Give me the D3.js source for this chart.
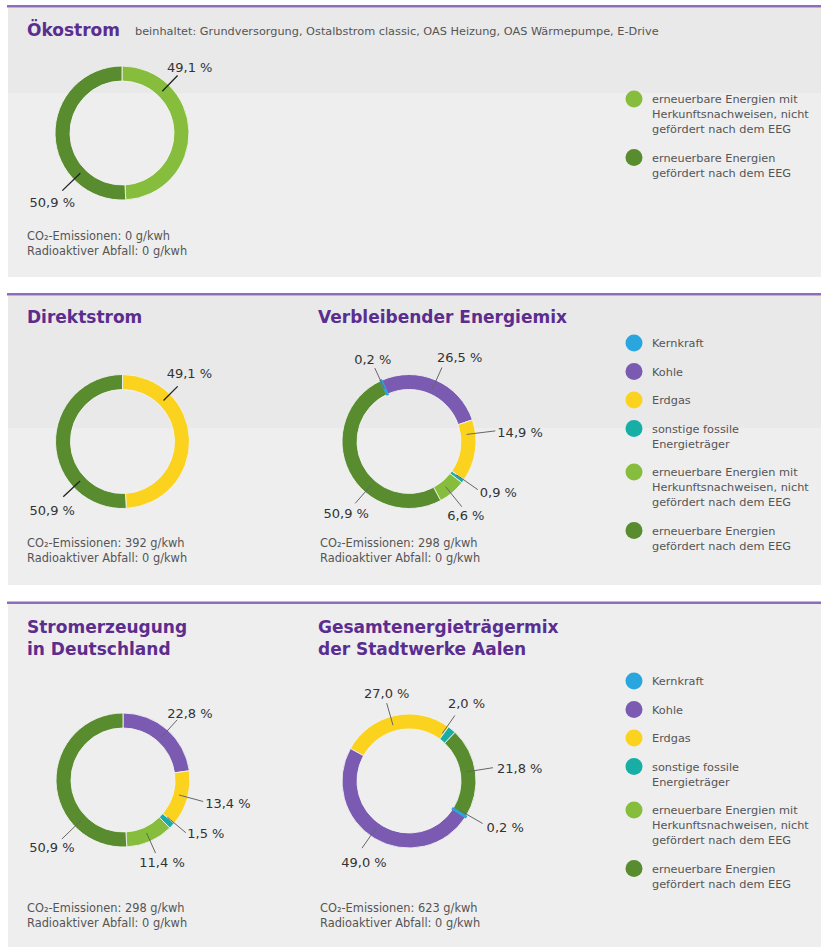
<!DOCTYPE html>
<html>
<head>
<meta charset="utf-8">
<script src="https://d3js.org/d3.v7.min.js"></script>
<style>
  body { margin: 0; background: #fff; }
  svg { display: block; font-family: "DejaVu Sans", sans-serif; }
</style>
</head>
<body>
<div id="chart"></div>
<script>
// Categories, legend texts and colours
const categories = [
    "Kernkraft",
    "Kohle",
    "Erdgas",
    "sonstige fossile Energieträger",
    "erneuerbare Energien mit Herkunftsnachweisen, nicht gefördert nach dem EEG",
    "erneuerbare Energien gefördert nach dem EEG",
]
const legendLines = [
    ["Kernkraft"],
    ["Kohle"],
    ["Erdgas"],
    ["sonstige fossile", "Energieträger"],
    ["erneuerbare Energien mit", "Herkunftsnachweisen, nicht", "gefördert nach dem EEG"],
    ["erneuerbare Energien", "gefördert nach dem EEG"],
]
const categoryColors = ["#2aa6de", "#7a5bb1", "#fbd31f", "#17aea6", "#86bd3d", "#588c2f"]

// Shares in percent, in category order
const oekostromValues   = [0, 0, 0, 0, 49.1, 50.9]
const direktstromValues = [0, 0, 49.1, 0, 0, 50.9]
const restmixValues     = [0.2, 26.5, 14.9, 0.9, 6.6, 50.9]
const deutschlandValues = [0, 22.8, 13.4, 1.5, 11.4, 50.9]
const gesamtValues      = [0.2, 49.0, 27.0, 2.0, 0, 21.8]

const co2Values   = [0, 392, 298, 298, 623]
const wasteValues = [0, 0, 0, 0, 0]

const chartTitles = [
    ["Ökostrom"],
    ["Direktstrom"],
    ["Verbleibender Energiemix"],
    ["Stromerzeugung", "in Deutschland"],
    ["Gesamtenergieträgermix", "der Stadtwerke Aalen"],
]
const oekostromNote = "beinhaltet: Grundversorgung, Ostalbstrom classic, OAS Heizung, OAS Wärmepumpe, E-Drive"

function drawCharts() {
    const dimensions = { width: 821, height: 949, outer: 67, inner: 52 }

    const svg = d3.select("#chart")
        .append("svg")
            .attr("width", dimensions.width)
            .attr("height", dimensions.height)

  // Panels
    const panels = [
        { top: 7.5, bottom: 277, band: 93 },
        { top: 295.5, bottom: 585, band: 428 },
        { top: 604, bottom: 947, band: null },
    ]
    panels.forEach(p => {
        svg.append("rect")
            .attr("x", 8).attr("y", p.top)
            .attr("width", dimensions.width - 8).attr("height", p.bottom - p.top)
            .attr("fill", "#eeeeee")
        if (p.band) {
            svg.append("rect")
                .attr("x", 8).attr("y", p.top)
                .attr("width", dimensions.width - 8).attr("height", p.band - p.top)
                .attr("fill", "#e9e9e9")
        }
        svg.append("rect")
            .attr("x", 7).attr("y", p.top - 2.5)
            .attr("width", dimensions.width - 7).attr("height", 2.5)
            .attr("fill", "#8d6cb9")
    })

  // Chart layout: centre, title position, start angle, label placement
  // labels: category -> [angle, leader radius, dx, dy, anchor]
    const charts = [
        { values: oekostromValues, cx: 122, cy: 133, tx: 27, ty: 36, noteX: 27, noteY: 240,
          start: 0, first: 0, dark: true,
          labels: { 4: [44, 80, -10.6, -3.5, "start"], 5: [226, 83, -10, 16, "middle"] } },
        { values: direktstromValues, cx: 122.5, cy: 441.5, tx: 27, ty: 323, noteX: 27, noteY: 547,
          start: 0, first: 0, dark: true,
          labels: { 2: [45, 78, -11, -8, "start"], 5: [227, 81, -11, 18, "middle"] } },
        { values: restmixValues, cx: 409, cy: 441.5, tx: 318, ty: 323, noteX: 320, noteY: 547,
          start: -25, first: 0,
          labels: { 0: [-25, 81, -2, -4, "middle"], 1: [24, 81, -5, -5.5, "start"], 2: [83, 87, 2, 6, "start"],
                    3: [125, 84, 2, 7, "start"], 4: [141, 84, 4, 13, "middle"], 5: [221, 82, -9, 15, "middle"] } },
        { values: deutschlandValues, cx: 123, cy: 780, tx: 27, ty: 633, noteX: 27, noteY: 912,
          start: 0, first: 0,
          labels: { 1: [42, 81, -10, -2, "start"], 2: [105, 83, 2, 6.5, "start"], 3: [130, 82, 1.5, 5.5, "start"],
                    4: [156, 80, 6.5, 14, "middle"], 5: [226, 85, -10, 13, "middle"] } },
        { values: gesamtValues, cx: 409, cy: 781, tx: 318, ty: 633, noteX: 320, noteY: 912,
          start: -61, first: 2,
          labels: { 2: [-16, 81, 0, -5, "middle"], 3: [35, 80, -7, -7.5, "start"], 5: [81, 85, 4, 5, "start"],
                    0: [120, 85, 4, 8.5, "start"], 1: [215, 82, 2, 19, "middle"] } },
    ]

    const rad = d => d * Math.PI / 180
    const polar = (c, a, r) => [c.cx + r * Math.sin(rad(a)), c.cy - r * Math.cos(rad(a))]
    const formatPct = v => d3.format(".1f")(v).replace(".", ",") + " %"

    const arcGenerator = d3.arc()
        .innerRadius(dimensions.inner)
        .outerRadius(dimensions.outer)

    charts.forEach((c, ci) => {
      // Title
        const title = svg.append("text")
            .attr("x", c.tx).attr("y", c.ty)
            .attr("fill", "#5b2d8f")
            .style("font-size", "17px")
            .style("font-weight", 700)
        chartTitles[ci].forEach((line, li) => {
            title.append("tspan")
                .attr("x", c.tx).attr("y", c.ty + li * 22)
                .text(line)
        })

      // Donut
        const order = d3.range(categories.length)
            .map(i => (i + c.first) % categories.length)
            .filter(i => c.values[i] > 0)
        const pie = d3.pie()
            .sort(null)
            .value(i => c.values[i])
            .startAngle(rad(c.start))
            .endAngle(rad(c.start) + 2 * Math.PI)
        const slices = pie(order)

        const bounds = svg.append("g")
            .attr("transform", `translate(${c.cx}, ${c.cy})`)
        bounds.selectAll("path")
            .data(slices)
            .join("path")
                .attr("d", arcGenerator)
                .attr("fill", d => categoryColors[d.data])
                .attr("stroke", d => c.values[d.data] < 0.5 ? categoryColors[d.data] : "#f2f2f2")
                .attr("stroke-width", d => c.values[d.data] < 0.5 ? 2.2 : 0.9)
        bounds.selectAll("path")
            .filter(d => c.values[d.data] < 0.5)
            .raise()

      // Labels with leader lines
        order.forEach(i => {
            const l = c.labels[i]
            if (!l) return
            const p1 = polar(c, l[0], 58)
            const p2 = polar(c, l[0], l[1])
            svg.append("line")
                .attr("x1", p1[0]).attr("y1", p1[1])
                .attr("x2", p2[0]).attr("y2", p2[1])
                .attr("stroke", c.dark ? "#222" : "#666")
                .attr("stroke-width", c.dark ? 1.3 : 1)
            svg.append("text")
                .attr("x", p2[0] + l[2]).attr("y", p2[1] + l[3])
                .attr("text-anchor", l[4])
                .attr("fill", "#333")
                .style("font-size", "13px")
                .text(formatPct(c.values[i]))
        })

      // Emission notes
        const note = svg.append("g")
            .attr("fill", "#555")
            .style("font-size", "11.4px")
        note.append("text")
            .attr("x", c.noteX).attr("y", c.noteY)
            .text(`CO₂-Emissionen: ${co2Values[ci]} g/kwh`)
        note.append("text")
            .attr("x", c.noteX).attr("y", c.noteY + 15)
            .text(`Radioaktiver Abfall: ${wasteValues[ci]} g/kwh`)
    })

    svg.append("text")
        .attr("x", 135).attr("y", 35)
        .attr("fill", "#555")
        .style("font-size", "11.3px")
        .text(oekostromNote)

  // Legends
    const legends = [
        { y: 99, items: [4, 5] },
        { y: 343, items: [0, 1, 2, 3, 4, 5] },
        { y: 681, items: [0, 1, 2, 3, 4, 5] },
    ]
    legends.forEach(lg => {
        let y = lg.y
        lg.items.forEach(i => {
            svg.append("circle")
                .attr("cx", 634).attr("cy", y)
                .attr("r", 8.5)
                .attr("fill", categoryColors[i])
            const t = svg.append("text")
                .attr("fill", "#555")
                .style("font-size", "11.3px")
            legendLines[i].forEach((line, li) => {
                t.append("tspan")
                    .attr("x", 652).attr("y", y + 4 + li * 15)
                    .text(line)
            })
            y += (legendLines[i].length - 1) * 15 + 28.5
        })
    })
}

drawCharts()
</script>
</body>
</html>
